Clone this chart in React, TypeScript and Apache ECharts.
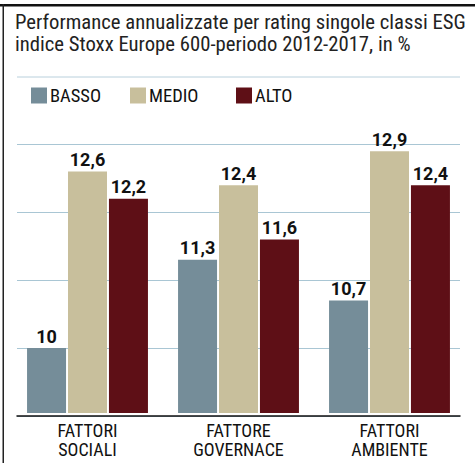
import React, { useEffect, useRef } from "react";
import * as echarts from "echarts";

const categories = ["FATTORI\nSOCIALI", "FATTORE\nGOVERNACE", "FATTORI\nAMBIENTE"];
const seriesNames = ["BASSO", "MEDIO", "ALTO"];
const basso = [10, 11.3, 10.7];
const medio = [12.6, 12.4, 12.9];
const alto = [12.2, 11.6, 12.4];
const titleText =
  "Performance annualizzate per rating singole classi ESG\nindice Stoxx Europe 600-periodo 2012-2017, in %";

const FONT = "'Roboto Condensed', 'DejaVu Sans Condensed', sans-serif";
const BOLD_FONT = "Roboto, 'Liberation Sans', sans-serif";
const colors = ["#758d99", "#c8bf9c", "#5e0f16"];

export default function App() {
  const ref = useRef<HTMLDivElement>(null);
  useEffect(() => {
    document.body.style.margin = "0";
    const chart = echarts.init(ref.current!, null, { renderer: "svg" });
    const values = [basso, medio, alto];
    const legendLefts = [31, 130, 236];
    chart.setOption({
      animation: false,
      title: {
        text: titleText,
        left: 15,
        top: 11,
        padding: 0,
        textStyle: {
          fontFamily: FONT,
          fontSize: 20.7,
          lineHeight: 22,
          fontWeight: "normal",
          color: "#222",
        },
      },
      legend: seriesNames.map((n, i) => ({
        data: [n],
        left: legendLefts[i],
        top: 86,
        padding: 0,
        itemWidth: 16,
        itemHeight: 16,
        icon: "rect",
        selectedMode: false,
        textStyle: { fontFamily: FONT, fontSize: 18.5, color: "#111", padding: [0, 0, 0, -2] },
      })),
      graphic: [
        { type: "rect", shape: { x: 0, y: 4, width: 475, height: 2.5 }, style: { fill: "#111" } },
        { type: "rect", shape: { x: 2.5, y: 4, width: 1.5, height: 460 }, style: { fill: "#222" } },
        { type: "line", shape: { x1: 17, y1: 77, x2: 460, y2: 77 }, style: { stroke: "#b9d0dc", lineWidth: 1 } },
      ],
      grid: [
        { left: 12, right: 10, top: 144.4, bottom: 50 },
        { left: 17, right: 15, top: 144.4, bottom: 47 },
      ],
      xAxis: [
        {
          type: "category",
          gridIndex: 0,
          data: categories,
          axisLine: { show: false },
          axisTick: { show: false },
          axisLabel: { fontFamily: FONT, fontSize: 18, lineHeight: 19, color: "#111", margin: 8 },
        },
        {
          type: "category",
          gridIndex: 1,
          data: categories,
          axisLine: { show: true, lineStyle: { color: "#111", width: 1.5 } },
          axisTick: { show: false },
          axisLabel: { show: false },
          z: 5,
        },
      ],
      yAxis: [
        {
          type: "value",
          gridIndex: 0,
          min: 9.044,
          max: 13,
          show: false,
          splitLine: { show: false },
        },
        {
          type: "value",
          gridIndex: 1,
          min: 9,
          max: 13,
          interval: 1,
          axisLabel: { show: false },
          axisLine: { show: false },
          axisTick: { show: false },
          splitLine: { show: true, lineStyle: { color: "#a9c6d4", width: 1 } },
        },
      ],
      series: seriesNames.map((n, i) => ({
        name: n,
        type: "bar",
        xAxisIndex: 0,
        yAxisIndex: 0,
        data: values[i],
        barWidth: 39,
        barGap: "5%",
        itemStyle: { color: colors[i] },
        label: {
          show: true,
          position: "top",
          distance: 3,
          fontFamily: BOLD_FONT,
          fontSize: 18,
          fontWeight: "bold",
          color: "#111",
          formatter: (p: any) => String(p.value).replace(".", ","),
        },
      })),
    });
    return () => chart.dispose();
  }, []);
  return <div ref={ref} style={{ width: 475, height: 463, position: "absolute", left: 0, top: 0 }} />;
}
